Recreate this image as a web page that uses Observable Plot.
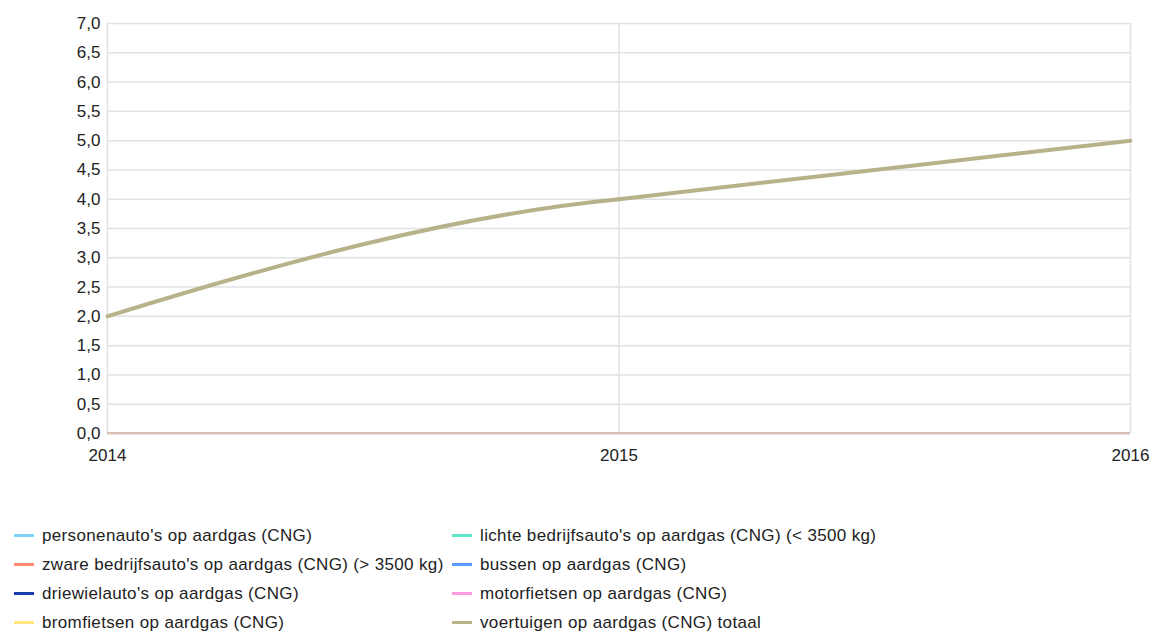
<!DOCTYPE html>
<html>
<head>
<meta charset="utf-8">
<script src="https://cdn.jsdelivr.net/npm/d3@7"></script>
<script src="https://cdn.jsdelivr.net/npm/@observablehq/plot@0.6"></script>
<style>
  html, body { margin: 0; padding: 0; background: #fff; }
  body { font-family: "Liberation Sans", Arial, sans-serif; color: #222; width: 1152px; }
  #legend { display: grid; grid-template-columns: 438px auto; padding-left: 14px; margin-top: 41px; font-size: 17px; letter-spacing: 0.35px; }
  .item { display: flex; align-items: center; height: 29px; white-space: nowrap; }
  .sw { width: 20px; height: 3px; margin-right: 8px; flex: none; }
</style>
</head>
<body>
<div id="chart"></div>
<div id="legend"></div>
<script>
const years = [2014, 2015, 2016];
const seriesNames = [
  "personenauto's op aardgas (CNG)",
  "lichte bedrijfsauto's op aardgas (CNG) (< 3500 kg)",
  "zware bedrijfsauto's op aardgas (CNG) (> 3500 kg)",
  "bussen op aardgas (CNG)",
  "driewielauto's op aardgas (CNG)",
  "motorfietsen op aardgas (CNG)",
  "bromfietsen op aardgas (CNG)",
  "voertuigen op aardgas (CNG) totaal"
];
const seriesColors = ["#80d3f8", "#5ee6c9", "#ff8a6c", "#5b9cff", "#1c3fae", "#ff9ade", "#ffe680", "#b7b28a"];
const personenauto = [0, 0, 0];
const lichteBedrijfsauto = [0, 0, 0];
const zwareBedrijfsauto = [0, 0, 0];
const bussen = [0, 0, 0];
const driewielauto = [0, 0, 0];
const motorfietsen = [0, 0, 0];
const bromfietsen = [0, 0, 0];
const totaal = [2.0, 4.0, 5.0];
const seriesValues = [personenauto, lichteBedrijfsauto, zwareBedrijfsauto, bussen, driewielauto, motorfietsen, bromfietsen, totaal];
const yTicks = [0, 0.5, 1, 1.5, 2, 2.5, 3, 3.5, 4, 4.5, 5, 5.5, 6, 6.5, 7];
const xTicks = [2014, 2015, 2016];

const rows = [];
seriesNames.forEach((name, i) => {
  years.forEach((yr, j) => rows.push({series: name, year: yr, value: seriesValues[i][j]}));
});

// smooth curve: interior tangent = flatter secant, end tangents pushed outward
function curveSmooth(context) {
  let xs = [], ys = [];
  return {
    areaStart() {}, areaEnd() {},
    lineStart() { xs = []; ys = []; },
    point(x, y) { xs.push(+x); ys.push(+y); },
    lineEnd() {
      const n = xs.length;
      if (!n) return;
      context.moveTo(xs[0], ys[0]);
      if (n === 1) return;
      if (n === 2) { context.lineTo(xs[1], ys[1]); return; }
      const s = [];
      for (let i = 0; i < n - 1; i++) s.push((ys[i + 1] - ys[i]) / (xs[i + 1] - xs[i]));
      const m = new Array(n).fill(0);
      for (let i = 1; i < n - 1; i++) {
        if (s[i - 1] * s[i] > 0) m[i] = Math.abs(s[i - 1]) < Math.abs(s[i]) ? s[i - 1] : s[i];
      }
      m[0] = s[0] + 0.7 * (s[0] - m[1]);
      m[n - 1] = s[n - 2] + 0.7 * (s[n - 2] - m[n - 2]);
      for (let i = 0; i < n - 1; i++) {
        const dx = (xs[i + 1] - xs[i]) / 3;
        const mIn = i + 1 < n - 1 ? m[i + 1] * 0.85 : m[i + 1];
        context.bezierCurveTo(xs[i] + dx, ys[i] + dx * m[i], xs[i + 1] - dx, ys[i + 1] - dx * mIn, xs[i + 1], ys[i + 1]);
      }
    }
  };
}

const fmtY = d => d.toFixed(1).replace(".", ",");
const zeroSeries = seriesNames.slice(0, 7);
const chart = Plot.plot({
  width: 1152,
  height: 480,
  marginTop: 23,
  marginBottom: 47,
  marginLeft: 107,
  marginRight: 22,
  style: {fontFamily: "'Liberation Sans', Arial, sans-serif", fontSize: "17px", color: "#222", background: "#fff"},
  x: {domain: [2014, 2016], ticks: xTicks, tickFormat: d => String(d), label: null},
  y: {domain: [0, 7], ticks: yTicks, tickFormat: fmtY, label: null},
  color: {domain: seriesNames, range: seriesColors},
  marks: [
    Plot.gridY(yTicks, {stroke: "#e2e2e2", strokeOpacity: 1, strokeWidth: 1.5}),
    Plot.gridX(xTicks, {stroke: "#e2e2e2", strokeOpacity: 1, strokeWidth: 1.5}),
    Plot.axisY({ticks: yTicks, tickSize: 0, tickPadding: 7, tickFormat: fmtY, fill: "#222"}),
    Plot.axisX({ticks: xTicks, tickSize: 0, tickPadding: 15, tickFormat: d => String(d), fill: "#222"}),
    Plot.line(rows.filter(d => zeroSeries.includes(d.series)), {x: "year", y: "value", z: "series", stroke: "series", strokeWidth: 2, clip: true}),
    Plot.ruleY([0], {stroke: "#d9c6bc", strokeWidth: 2}),
    Plot.line(rows.filter(d => d.series === seriesNames[7]), {x: "year", y: "value", stroke: "series", strokeWidth: 4, curve: curveSmooth})
  ]
});
document.getElementById("chart").appendChild(chart);

const legend = document.getElementById("legend");
seriesNames.forEach((name, i) => {
  const item = document.createElement("div");
  item.className = "item";
  const sw = document.createElement("span");
  sw.className = "sw";
  sw.style.background = seriesColors[i];
  const label = document.createElement("span");
  label.textContent = name;
  item.appendChild(sw);
  item.appendChild(label);
  legend.appendChild(item);
});
</script>
</body>
</html>
